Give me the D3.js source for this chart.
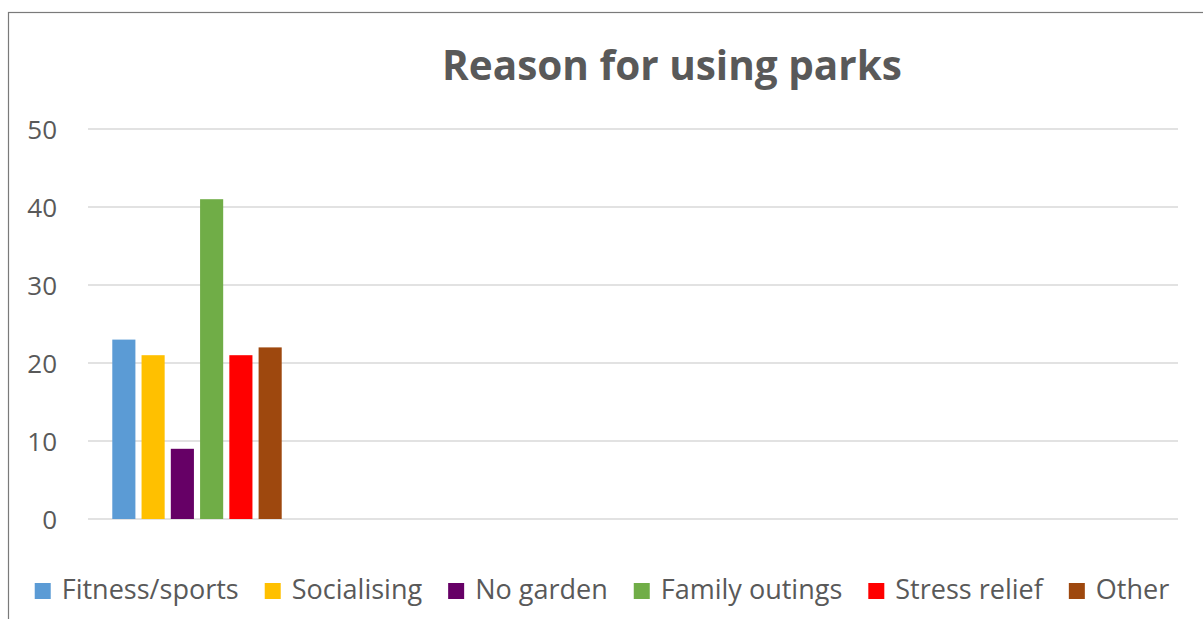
<!DOCTYPE html>
<html>
<head>
<meta charset="utf-8">
<script src="https://cdn.jsdelivr.net/npm/d3@7"></script>
<style>
  body { margin: 0; background: #fff; }
  svg { display: block; }
</style>
</head>
<body>
<script>
// chart values
const title = "Reason for using parks";
const series = ["Fitness/sports", "Socialising", "No garden", "Family outings", "Stress relief", "Other"];
const values = [23, 21, 9, 41, 21, 22];
const colors = ["#5B9BD5", "#FFC000", "#660066", "#70AD47", "#FF0000", "#9E480E"];
const groups = ["1", "2", "3", "4", "5"];   // only the first slot holds data
const yTicks = [0, 10, 20, 30, 40, 50];

const W = 1203, H = 619;
const font = "'Open Sans', 'Noto Sans', sans-serif";
const textCol = "#595959";

const svg = d3.select("body").append("svg")
    .attr("width", W)
    .attr("height", H);

// outer frame (only top and left are inside the picture)
svg.append("rect")
    .attr("x", 8.5).attr("y", 12.5)
    .attr("width", W + 20).attr("height", H + 20)
    .attr("fill", "none")
    .attr("stroke", "#7a7a7a")
    .attr("stroke-width", 1.2);

const plot = {left: 88, right: 1178, top: 129, bottom: 519};

const y = d3.scaleLinear()
    .domain([0, 50])
    .range([plot.bottom, plot.top]);

const x0 = d3.scaleBand()
    .domain(groups)
    .range([plot.left, plot.right])
    .padding(0);

const x1 = d3.scaleBand()
    .domain(series)
    .range([0, x0.bandwidth()])
    .paddingInner(0.21)
    .paddingOuter(0.83);

// gridlines
svg.append("g")
    .selectAll("line")
    .data(yTicks)
    .enter()
    .append("line")
    .attr("x1", plot.left)
    .attr("x2", plot.right)
    .attr("y1", d => y(d))
    .attr("y2", d => y(d))
    .attr("stroke", "#d9d9d9")
    .attr("stroke-width", 1.5);

// y axis labels
const yAxis = d3.axisLeft(y)
    .tickValues(yTicks)
    .tickSize(0)
    .tickPadding(31);

const ya = svg.append("g")
    .attr("transform", "translate(" + plot.left + ",0)")
    .call(yAxis);
ya.select(".domain").remove();
ya.selectAll("text")
    .attr("font-family", font)
    .attr("font-size", 26)
    .attr("fill", textCol)
    .attr("dy", "0.36em");

// bars
const rows = series.map((s, i) => ({name: s, value: values[i], color: colors[i]}));
svg.append("g")
    .attr("transform", "translate(" + x0(groups[0]) + ",0)")
    .selectAll("rect")
    .data(rows)
    .enter()
    .append("rect")
    .attr("x", d => x1(d.name))
    .attr("y", d => y(d.value))
    .attr("width", x1.bandwidth())
    .attr("height", d => y(0) - y(d.value))
    .attr("fill", d => d.color);

// title, sized to the reference width
const t = svg.append("text")
    .attr("x", 672)
    .attr("y", 80)
    .attr("text-anchor", "middle")
    .attr("font-family", font)
    .attr("font-weight", "bold")
    .attr("font-size", 40)
    .attr("fill", textCol)
    .text(title);
const tw = t.node().getComputedTextLength();
t.attr("font-size", 40 * 460 / tw);

// legend, text sized so the row spans the same width as the reference
const sw = 16, swGap = 11, itemGap = 26, legSpan = 1135;
const leg = svg.append("g");
const items = leg.selectAll("g")
    .data(rows)
    .enter()
    .append("g");
items.append("rect")
    .attr("width", sw)
    .attr("height", sw)
    .attr("y", -sw)
    .attr("fill", d => d.color);
const legText = items.append("text")
    .attr("x", sw + swGap)
    .attr("font-family", font)
    .attr("font-size", 24)
    .attr("fill", textCol)
    .text(d => d.name);

let textSum = 0;
legText.each(function() { textSum += this.getComputedTextLength(); });
const room = legSpan - rows.length * (sw + swGap) - (rows.length - 1) * itemGap;
legText.attr("font-size", 24 * room / textSum);

let cx = 0;
items.each(function() {
    const g = d3.select(this);
    const w = sw + swGap + g.select("text").node().getComputedTextLength();
    g.attr("transform", "translate(" + cx + ",0)");
    cx += w + itemGap;
});
const legW = cx - itemGap;
leg.attr("transform", "translate(" + (602 - legW / 2) + ",599)");
</script>
</body>
</html>
